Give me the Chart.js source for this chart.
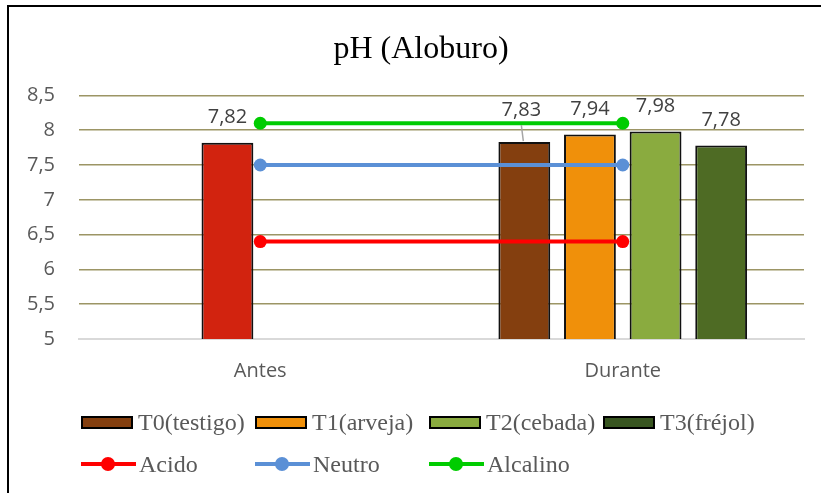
<!DOCTYPE html>
<html>
<head>
<meta charset="utf-8">
<script src="https://cdn.jsdelivr.net/npm/chart.js@4/dist/chart.umd.min.js"></script>
<style>
  html, body { margin: 0; padding: 0; background: #fff; overflow: hidden; }
  #wrap { position: relative; width: 821px; height: 493px; overflow: hidden; }
  #frame { position: absolute; left: 7px; top: 5px; width: 900px; height: 600px;
           border-left: 2px solid #000; border-top: 2px solid #000; }
  #chart { position: absolute; left: 0; top: 0; }
  #legend { position: absolute; left: 81px; top: 410px; display: grid;
            grid-template-columns: 174px 174px 174px 174px; grid-auto-rows: 42px;
            font-family: 'Liberation Serif', 'Times New Roman', serif; font-size: 24px; color: #595959; }
  .item { display: flex; align-items: center; height: 24px; white-space: nowrap; }
  .box { width: 52px; height: 13px; box-sizing: border-box; border: 2px solid #000; margin-right: 5px; }
  .ln { position: relative; width: 55px; height: 14px; margin-right: 3px; }
  .ln .bar { position: absolute; left: 0; right: 0; top: 5px; height: 4px; }
  .ln .dot { position: absolute; left: 20px; top: 0; width: 14px; height: 14px; border-radius: 50%; }
</style>
</head>
<body>
<div id="wrap">
  <div id="frame"></div>
  <canvas id="chart" width="821" height="493"></canvas>
  <div id="legend"></div>
</div>
<script>
// chart data
const categories = ['Antes', 'Durante'];
const t0Values = [null, 7.83];
const t1Values = [7.82, 7.94];
const t2Values = [null, 7.98];
const t3Values = [null, 7.78];
const acidoValues = [6.4, 6.4];
const neutroValues = [7.5, 7.5];
const alcalinoValues = [8.1, 8.1];

const fmt = v => String(v).replace('.', ',');

// value labels above the bars (T0 "Durante" label was dragged up, with a leader line)
const barLabels = {
    id: 'barLabels',
    afterLayout(chart) {
        // centre the title over the framed picture rather than the canvas
        if (chart.titleBlock) {
            chart.titleBlock.left = 38;
            chart.titleBlock.right = 804;
        }
    },
    afterDatasetsDraw(chart) {
        const ctx = chart.ctx;
        ctx.save();
        ctx.font = '20px "Open Sans"';
        ctx.fillStyle = '#404040';
        ctx.textAlign = 'center';
        ctx.textBaseline = 'middle';
        chart.data.datasets.forEach((ds, i) => {
            if (ds.type !== 'bar') return;
            const meta = chart.getDatasetMeta(i);
            meta.data.forEach((bar, j) => {
                const v = ds.data[j];
                if (v == null) return;
                let y = bar.y - 25;
                let x = bar.x;
                if (ds.label === 'T0(testigo)' && j === 1) {
                    y -= 7;
                    x -= 3;
                    ctx.strokeStyle = '#a6a6a6';
                    ctx.lineWidth = 1.5;
                    ctx.beginPath();
                    ctx.moveTo(bar.x - 3, y + 15);
                    ctx.lineTo(bar.x - 1, bar.y - 1);
                    ctx.stroke();
                }
                ctx.fillText(fmt(v), x, y);
            });
        });
        ctx.restore();
    }
};

// html legend built from the datasets
const htmlLegend = {
    id: 'htmlLegend',
    afterUpdate(chart) {
        const box = document.getElementById('legend');
        box.innerHTML = '';
        const bars = chart.data.datasets.filter(d => d.type === 'bar');
        const lines = chart.data.datasets.filter(d => d.type === 'line');
        bars.forEach(ds => {
            const col = ds.legendColor || ds.backgroundColor;
            box.insertAdjacentHTML('beforeend',
                `<div class="item"><span class="box" style="background:${col}"></span>${ds.label}</div>`);
        });
        lines.forEach(ds => {
            box.insertAdjacentHTML('beforeend',
                `<div class="item"><span class="ln"><span class="bar" style="background:${ds.borderColor}"></span>` +
                `<span class="dot" style="background:${ds.borderColor}"></span></span>${ds.label}</div>`);
        });
    }
};

new Chart(document.getElementById('chart'), {
    data: {
        labels: categories,
        datasets: [
            { type: 'line', label: 'Acido', data: acidoValues, order: 0,
              borderColor: '#ff0000', backgroundColor: '#ff0000', borderWidth: 4,
              pointRadius: 6.5, pointBackgroundColor: '#ff0000', pointBorderWidth: 0 },
            { type: 'line', label: 'Neutro', data: neutroValues, order: 0,
              borderColor: '#5b90d6', backgroundColor: '#5b90d6', borderWidth: 4,
              pointRadius: 6.5, pointBackgroundColor: '#5b90d6', pointBorderWidth: 0 },
            { type: 'line', label: 'Alcalino', data: alcalinoValues, order: 0,
              borderColor: '#00cc00', backgroundColor: '#00cc00', borderWidth: 4,
              pointRadius: 6.5, pointBackgroundColor: '#00cc00', pointBorderWidth: 0 },
            { type: 'bar', label: 'T0(testigo)', data: t0Values, order: 1,
              backgroundColor: '#843f0f', borderColor: '#111', borderWidth: 2 },
            { type: 'bar', label: 'T1(arveja)', data: t1Values, order: 1,
              backgroundColor: ['#d2230f', '#f0900a'], legendColor: '#f0900a', borderColor: '#111', borderWidth: 2 },
            { type: 'bar', label: 'T2(cebada)', data: t2Values, order: 1,
              backgroundColor: '#8aab3f', borderColor: '#111', borderWidth: 2 },
            { type: 'bar', label: 'T3(fréjol)', data: t3Values, order: 1,
              backgroundColor: '#4e6b24', legendColor: '#385520', borderColor: '#111', borderWidth: 2 }
        ]
    },
    options: {
        responsive: false,
        animation: false,
        devicePixelRatio: 1,
        layout: { padding: { left: 0, right: 17, top: 0, bottom: 104 } },
        datasets: { bar: { categoryPercentage: 0.724, barPercentage: 0.79 } },
        scales: {
            x: {
                grid: { display: false },
                border: { display: true, color: '#d9d9d9', width: 2 },
                ticks: { font: { family: 'Open Sans', size: 20 }, color: '#595959', padding: 12 },
                afterFit(scale) { scale.height = 50; }
            },
            y: {
                min: 5,
                max: 8.5,
                ticks: { stepSize: 0.5, font: { family: 'Open Sans', size: 20 }, color: '#595959',
                         padding: 24, callback: v => fmt(v) },
                grid: { drawTicks: false, lineWidth: 1.5,
                        color: c => c.tick && c.tick.value === 5 ? '#d9d9d9' : '#9c9565' },
                border: { display: false },
                afterFit(scale) { scale.width = 79; }
            }
        },
        plugins: {
            legend: { display: false },
            tooltip: { enabled: false },
            title: {
                display: true,
                text: 'pH (Aloburo)',
                color: '#000',
                font: { family: 'Liberation Serif', size: 32, weight: 'normal' },
                padding: { top: 30, bottom: 27 }
            }
        }
    },
    plugins: [barLabels, htmlLegend]
});
</script>
</body>
</html>
